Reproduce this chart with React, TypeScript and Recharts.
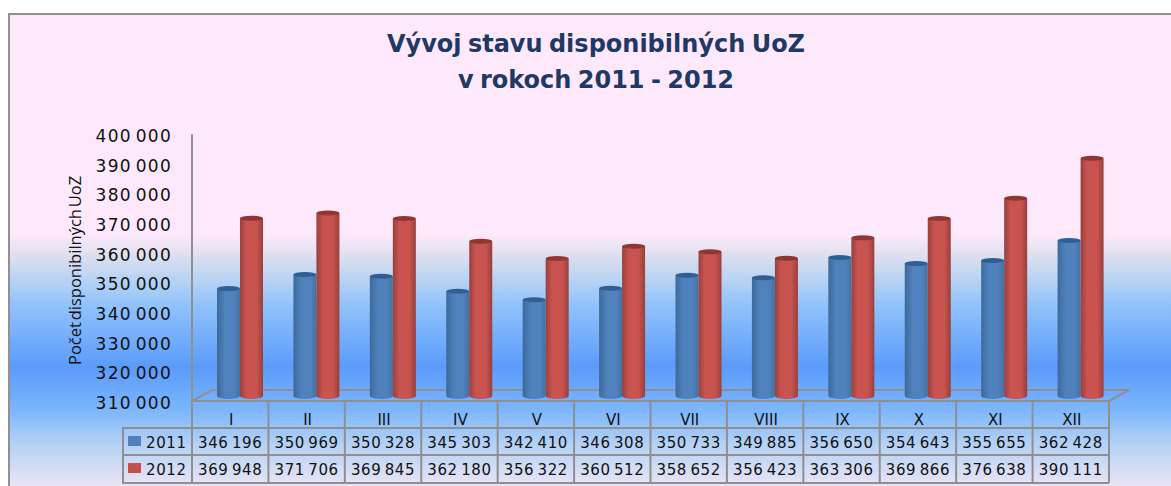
import React from 'react';
import { BarChart, Bar, XAxis, YAxis } from 'recharts';

const months = ['I', 'II', 'III', 'IV', 'V', 'VI', 'VII', 'VIII', 'IX', 'X', 'XI', 'XII'];
const values2011 = [346196, 350969, 350328, 345303, 342410, 346308, 350733, 349885, 356650, 354643, 355655, 362428];
const values2012 = [369948, 371706, 369845, 362180, 356322, 360512, 358652, 356423, 363306, 369866, 376638, 390111];
const yTicks = [310000, 320000, 330000, 340000, 350000, 360000, 370000, 380000, 390000, 400000];

const data = months.map((month, i) => ({ month, y2011: values2011[i], y2012: values2012[i] }));

const fmt = (v: number) => String(v).replace(/(\d{3})$/, ' $1');

const FONT = '"DejaVu Sans", Verdana, sans-serif';
const GRID = '#8f8f8f';

// front edge of the 3d floor and the table columns below it
const frontLeft = 192;
const frontRight = 1109;
const frontY = 401;
const backY = 390;
const depth = 20;
const colW = (frontRight - frontLeft) / 12;

const Cylinder = (props: any) => {
  const { x, y, width, height, dataKey } = props;
  const id = dataKey === 'y2011' ? 'blue' : 'red';
  const top = dataKey === 'y2011' ? '#2f5f92' : '#8f3533';
  const bottom = y + height;
  return (
    <g>
      <ellipse cx={x + width / 2} cy={bottom} rx={width / 2} ry={3} fill={`url(#${id})`} />
      <rect x={x} y={y} width={width} height={height} fill={`url(#${id})`} />
      <ellipse cx={x + width / 2} cy={y} rx={width / 2} ry={2.5} fill={top} />
    </g>
  );
};

const YTick = ({ x, y, payload }: any) => (
  <text x={x - 22} y={y + 13} textAnchor="end" fontFamily={FONT} fontSize={17} letterSpacing={1.3} wordSpacing={-3} fill="#111">
    {fmt(payload.value)}
  </text>
);

const XTick = ({ x, y, payload }: any) => (
  <text x={x - 9} y={y + 21} textAnchor="middle" fontFamily={FONT} fontSize={15} fill="#111">
    {payload.value}
  </text>
);

const Floor = () => (
  <g>
    <g fill="none" stroke={GRID} strokeWidth={2}>
      <line x1={frontLeft} y1={134} x2={frontLeft} y2={frontY} />
      <polyline points={`${frontLeft},${frontY} ${frontLeft + depth},${backY} ${frontRight + depth},${backY} ${frontRight},${frontY} ${frontLeft},${frontY}`} />
    </g>
    <text
      transform="translate(81 365) rotate(-90)"
      fontFamily='"Open Sans", sans-serif'
      fontSize={16.5}
      wordSpacing={-2.5}
      fill="#111"
    >
      Počet disponibilných UoZ
    </text>
  </g>
);

const DataTable = () => {
  const rows = [
    { label: '2011', color: '#4f81bd', values: values2011, top: 428 },
    { label: '2012', color: '#c0504d', values: values2012, top: 455 },
  ];
  return (
    <g>
      <g stroke={GRID} strokeWidth={2}>
        <line x1={122} y1={428} x2={frontRight} y2={428} />
        <line x1={122} y1={455} x2={frontRight} y2={455} />
        <line x1={122} y1={483} x2={frontRight} y2={483} />
        <line x1={123} y1={428} x2={123} y2={483} />
        {months.map((m, i) => (
          <line key={m} x1={frontLeft + i * colW} y1={frontY} x2={frontLeft + i * colW} y2={483} />
        ))}
        <line x1={frontRight} y1={frontY} x2={frontRight} y2={483} />
      </g>
      {rows.map((row) => (
        <g key={row.label} fontFamily={FONT} fontSize={15} fill="#111" letterSpacing={0.6} wordSpacing={-2}>
          <rect x={128} y={row.top + 8} width={13} height={10} fill={row.color} />
          <text x={146} y={row.top + 20}>{row.label}</text>
          {row.values.map((v, i) => (
            <text key={months[i]} x={frontLeft + (i + 0.5) * colW} y={row.top + 20} textAnchor="middle">
              {fmt(v)}
            </text>
          ))}
        </g>
      ))}
    </g>
  );
};

export default function App() {
  return (
    <div style={{ position: 'absolute', left: 0, top: 0, width: 1171, height: 486, background: '#fff', overflow: 'hidden' }}>
      <div
        style={{
          position: 'absolute',
          left: 8,
          top: 13,
          width: 1163,
          height: 473,
          boxSizing: 'border-box',
          borderLeft: '2px solid #948f94',
          borderTop: '2px solid #948f94',
          background:
            'linear-gradient(180deg, #fde9fb 0px, #fde9fb 220px, #dfdfee 240px, #b7d3f4 265px, #8fc1fb 292px, #5b9bfb 352px, #7cb6fc 395px, #b6d2f4 430px, #ece5f6 473px)',
        }}
      />
      <div style={{ position: 'absolute', left: 0, top: 0 }}>
        <BarChart
          width={1171}
          height={486}
          data={data}
          barSize={23}
          barGap={0}
          margin={{ top: 129, right: 52, bottom: 60, left: 112 }}
        >
          <defs>
            <linearGradient id="blue" x1="0" y1="0" x2="1" y2="0">
              <stop offset="0%" stopColor="#3d6a9b" />
              <stop offset="35%" stopColor="#4f81bd" />
              <stop offset="75%" stopColor="#4f81bd" />
              <stop offset="100%" stopColor="#44719f" />
            </linearGradient>
            <linearGradient id="red" x1="0" y1="0" x2="1" y2="0">
              <stop offset="0%" stopColor="#96403d" />
              <stop offset="28%" stopColor="#c9534f" />
              <stop offset="72%" stopColor="#c9534f" />
              <stop offset="100%" stopColor="#96403d" />
            </linearGradient>
          </defs>
          <Floor />
          <XAxis dataKey="month" height={30} axisLine={false} tickLine={false} tick={<XTick />} interval={0} />
          <YAxis
            width={90}
            domain={[310000, 400000]}
            ticks={yTicks}
            axisLine={false}
            tickLine={false}
            tick={<YTick />}
            interval={0}
          />
          <Bar dataKey="y2011" fill="#4f81bd" shape={<Cylinder />} isAnimationActive={false} />
          <Bar dataKey="y2012" fill="#c0504d" shape={<Cylinder />} isAnimationActive={false} />
          <DataTable />
        </BarChart>
      </div>
      <div
        style={{
          position: 'absolute',
          left: 9,
          width: 1174,
          top: 26,
          textAlign: 'center',
          fontFamily: FONT,
          fontWeight: 700,
          fontSize: 24,
          wordSpacing: -2,
          lineHeight: '36px',
          color: '#1f3864',
        }}
      >
        Vývoj stavu disponibilných UoZ
        <br />v rokoch 2011 - 2012
      </div>
    </div>
  );
}
